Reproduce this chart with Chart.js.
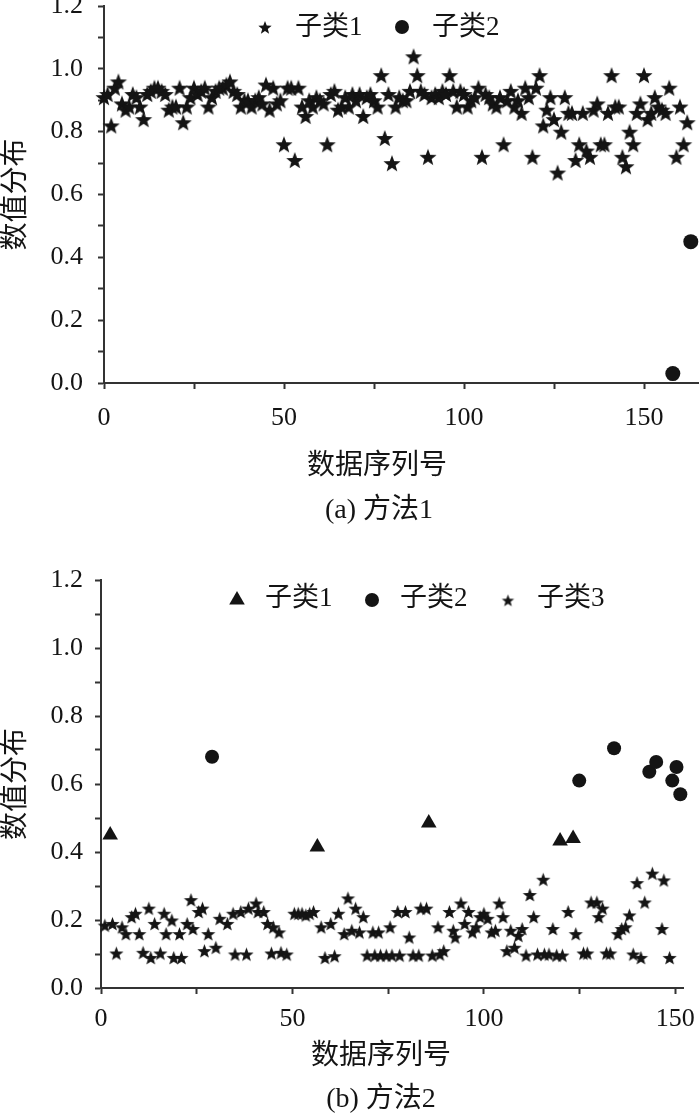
<!DOCTYPE html>
<html><head><meta charset="utf-8">
<script src="https://cdn.jsdelivr.net/npm/chart.js@4.4.1/dist/chart.umd.min.js"></script>
<style>
html,body{margin:0;padding:0;background:#fff;}
#wrap{position:relative;width:700px;height:1118px;overflow:hidden;}
#ca{position:absolute;left:0;top:0;width:700px;height:540px;}
#cb{position:absolute;left:0;top:540px;width:700px;height:578px;}
</style></head><body>
<div id="wrap"><canvas id="ca" width="700" height="540"></canvas><canvas id="cb" width="700" height="578"></canvas></div>
<script>
// ---------- DATA ----------
const xTitle = '数据序列号';
const yTitle = '数值分布';
const titleA = '(a) 方法1';
const titleB = '(b) 方法2';
const yTickValues = [0, 0.2, 0.4, 0.6, 0.8, 1.0, 1.2];
const xTickValues = [0, 50, 100, 150];
const xTickMarks = [0, 25, 50, 75, 100, 125, 150];

// Chart (a): value for each sequence number 0..162 (null = belongs to 子类2)
const labelsA = ['子类1', '子类2'];
const starA = [
 0.91,0.92,0.82,0.94,0.96,0.89,0.87,0.88,0.92,0.91,
 0.88,0.84,0.92,0.93,0.94,0.94,0.93,0.92,0.87,0.88,
 0.88,0.94,0.83,0.88,0.91,0.94,0.92,0.93,0.94,0.88,
 0.91,0.93,0.94,0.94,0.95,0.96,0.93,0.92,0.88,0.90,
 0.90,0.88,0.90,0.91,0.89,0.95,0.87,0.94,0.89,0.90,
 0.76,0.94,0.94,0.71,0.94,0.88,0.85,0.90,0.88,0.91,
 0.90,0.89,0.76,0.92,0.93,0.87,0.88,0.91,0.88,0.92,
 0.90,0.92,0.85,0.91,0.92,0.90,0.88,0.98,0.78,0.92,
 0.70,0.88,0.91,0.90,0.90,0.93,1.04,0.98,0.93,0.92,
 0.72,0.91,0.92,0.91,0.93,0.92,0.98,0.93,0.88,0.93,
 0.92,0.88,0.90,0.91,0.94,0.72,0.92,0.91,0.89,0.88,
 0.91,0.76,0.90,0.93,0.88,0.90,0.86,0.94,0.91,0.72,
 0.94,0.98,0.82,0.87,0.91,0.84,0.67,0.80,0.91,0.86,
 0.86,0.71,0.76,0.86,0.74,0.72,0.87,0.89,0.76,0.76,
 0.86,0.98,0.88,0.88,0.72,0.69,0.80,0.76,0.86,0.89,
 0.98,0.84,0.86,0.91,0.88,0.87,0.86,0.94,null,0.72,
 0.88,0.76,0.83
];
const circleAX = [158, 163];
const circleAY = [0.03, 0.45];

// Chart (b)
const labelsB = ['子类1', '子类2', '子类3'];
const triBX = [2.4, 56.5, 85.6, 119.9, 123.3];
const triBY = [0.45, 0.415, 0.485, 0.432, 0.44];
const circleBX = [29, 124.9, 134, 143.2, 145, 149.2, 150.3, 151.3];
const circleBY = [0.68, 0.61, 0.705, 0.636, 0.665, 0.61, 0.65, 0.57];
const starBX = [1,3,4,5.5,6.5,8,9,10,11,12.5,13,14,15.5,16.5,17,18.5,19,20.5,21,22.5,
 23.5,24,25.5,26.5,27,28,30,31,33,34.5,35,36.5,38,38.5,40.5,41,42.5,43.5,44.5,45,
 46.5,47,48.5,50.5,51.5,52.5,53.5,54.5,55.5,57.5,58.5,60,61,62,63.5,64.5,65.5,66.5,67.5,68.5,
 69.5,71,71.5,72.5,73,74.5,75.5,76,77.5,78,79.5,80.5,81.5,83,83.5,85,86.5,88,88.5,89.5,
 91,92,92.5,94,95,96,97,98,99,100,101,102,103,104,105,106,107,108,109,110,
 111,112,113,114,115.5,115.8,117,118,119,120.5,122,124,126,127,128,129.5,130,131,132,133,
 135,136,137,138,139,140,141,142,144,146.5,147,148.5];
const starBY = [0.185,0.19,0.103,0.18,0.16,0.21,0.22,0.16,0.105,0.235,0.09,0.19,0.103,0.22,0.16,0.20,0.09,0.16,0.09,0.19,
 0.26,0.175,0.225,0.235,0.11,0.16,0.12,0.205,0.19,0.22,0.10,0.225,0.10,0.235,0.25,0.225,0.225,0.19,0.103,0.18,
 0.165,0.105,0.10,0.22,0.22,0.22,0.215,0.22,0.225,0.18,0.09,0.19,0.095,0.22,0.16,0.265,0.17,0.235,0.165,0.21,
 0.097,0.165,0.097,0.165,0.097,0.097,0.18,0.097,0.225,0.097,0.225,0.15,0.097,0.097,0.235,0.235,0.097,0.18,0.10,0.11,
 0.225,0.17,0.15,0.25,0.19,0.225,0.165,0.18,0.21,0.22,0.205,0.165,0.17,0.25,0.21,0.11,0.17,0.12,0.155,0.175,
 0.097,0.275,0.21,0.10,0.32,0.10,0.10,0.175,0.097,0.097,0.225,0.16,0.103,0.103,0.253,0.253,0.21,0.235,0.103,0.103,
 0.16,0.175,0.18,0.215,0.10,0.31,0.09,0.253,0.338,0.175,0.318,0.09];

// ---------- STYLE / HELPERS ----------
const serif = "'Liberation Serif', 'Noto Sans CJK SC', serif";
const ink = '#141414';
const axisCol = '#333333';

function makeStar(R, ratio, color) {
  const s = Math.ceil(R * 2) + 2;
  const c = document.createElement('canvas');
  c.width = s; c.height = s;
  const g = c.getContext('2d');
  g.fillStyle = color;
  g.beginPath();
  for (let k = 0; k < 10; k++) {
    const r = k % 2 === 0 ? R : R * ratio;
    const a = -Math.PI / 2 + k * Math.PI / 5;
    const x = s / 2 + r * Math.cos(a), y = s / 2 + 1 + r * Math.sin(a);
    if (k) g.lineTo(x, y); else g.moveTo(x, y);
  }
  g.closePath(); g.fill();
  return c;
}
const starBigA = makeStar(9, 0.42, ink);
const starLegA = makeStar(7, 0.42, ink);
const starB = makeStar(7.5, 0.42, ink);
const starLegB = makeStar(6.5, 0.42, ink);

function pairs(xs, ys) { return xs.map((x, i) => ({x: x, y: ys[i]})); }

// legend inside the plot + captions under the axis
const legendPlugin = {
  id: 'customLegend',
  afterDraw(chart, args, opts) {
    const ctx = chart.ctx;
    ctx.save();
    ctx.font = opts.size + 'px ' + serif;
    ctx.textBaseline = 'middle';
    ctx.textAlign = 'left';
    opts.items.forEach((it, k) => {
      const ds = chart.data.datasets[k];
      ctx.fillStyle = ink; ctx.strokeStyle = ink;
      Chart.helpers.drawPoint(ctx, {pointStyle: it.style, radius: it.r, rotation: 0, borderWidth: 0}, it.mx, opts.my);
      ctx.fillStyle = ink;
      ctx.fillText(ds.label, it.tx, opts.ty);
    });
    ctx.textAlign = 'center';
    ctx.font = opts.capSize + 'px ' + serif;
    opts.captions.forEach(c => ctx.fillText(c.text, c.x, c.y));
    ctx.restore();
  }
};

function yScale(width, pad) {
  return {
    type: 'linear', min: 0, max: 1.2,
    border: {display: true, color: axisCol, width: 2},
    grid: {display: true, drawOnChartArea: false, drawTicks: true, tickLength: 6, tickColor: axisCol, tickWidth: 2},
    ticks: {stepSize: 0.1, autoSkip: false, padding: pad, color: ink, font: {family: serif, size: 26},
      callback: v => yTickValues.some(t => Math.abs(t - v) < 1e-6) ? v.toFixed(1) : ''},
    title: {display: true, text: yTitle, color: ink, font: {family: serif, size: 28}, padding: {top: 0, bottom: 0}},
    afterFit: s => { s.width = width; s.paddingTop = 0; s.paddingBottom = 0; }
  };
}
function xScale(max, pad) {
  return {
    type: 'linear', min: 0, max: max,
    border: {display: true, color: axisCol, width: 2},
    grid: {display: true, drawOnChartArea: false, drawTicks: true, tickLength: 6, tickColor: axisCol, tickWidth: 2},
    afterBuildTicks: s => { s.ticks = xTickMarks.map(v => ({value: v})); },
    ticks: {autoSkip: false, maxRotation: 0, padding: pad, color: ink, font: {family: serif, size: 26},
      callback: v => xTickValues.includes(v) ? String(v) : ''},
    title: {display: false},
    afterFit: s => { s.height = 60; s.paddingLeft = 0; s.paddingRight = 0; }
  };
}

// ---------- CHART A ----------
const starPtsA = [];
starA.forEach((v, i) => { if (v !== null) starPtsA.push({x: i, y: v}); });

new Chart(document.getElementById('ca'), {
  type: 'scatter',
  data: {datasets: [
    {label: labelsA[0], data: starPtsA, pointStyle: starBigA, pointRadius: 9, backgroundColor: ink, borderColor: ink, borderWidth: 0, clip: false},
    {label: labelsA[1], data: pairs(circleAX, circleAY), pointStyle: 'circle', pointRadius: 7.5, backgroundColor: ink, borderColor: ink, borderWidth: 0, clip: false}
  ]},
  options: {
    responsive: false, animation: false, events: [],
    layout: {autoPadding: false, padding: {top: 6, left: 0, right: 2, bottom: 97}},
    scales: {x: xScale(165, 13.4), y: yScale(104, 15)},
    plugins: {
      legend: {display: false}, tooltip: {enabled: false}, title: {display: false},
      customLegend: {size: 27, my: 27, ty: 28, capSize: 28,
        captions: [{text: xTitle, x: 377, y: 467}, {text: titleA, x: 379, y: 511}],
        items: [
          {style: starLegA, r: 7, mx: 265, tx: 295},
          {style: 'circle', r: 7, mx: 402, tx: 432}
        ]}
    }
  },
  plugins: [legendPlugin]
});

// ---------- CHART B ----------
new Chart(document.getElementById('cb'), {
  type: 'scatter',
  data: {datasets: [
    {label: labelsB[0], data: pairs(triBX, triBY), pointStyle: 'triangle', pointRadius: 9, backgroundColor: ink, borderColor: ink, borderWidth: 0, clip: false},
    {label: labelsB[1], data: pairs(circleBX, circleBY), pointStyle: 'circle', pointRadius: 7, backgroundColor: ink, borderColor: ink, borderWidth: 0, clip: false},
    {label: labelsB[2], data: pairs(starBX, starBY), pointStyle: starB, pointRadius: 8, backgroundColor: ink, borderColor: ink, borderWidth: 0, clip: false}
  ]},
  options: {
    responsive: false, animation: false, events: [],
    layout: {autoPadding: false, padding: {top: 40, left: 0, right: 17, bottom: 70}},
    scales: {x: xScale(152, 9.9), y: yScale(101, 12)},
    plugins: {
      legend: {display: false}, tooltip: {enabled: false}, title: {display: false},
      customLegend: {size: 27, my: 60, ty: 59, capSize: 28,
        captions: [{text: xTitle, x: 381, y: 517}, {text: titleB, x: 381, y: 560}],
        items: [
          {style: 'triangle', r: 9, mx: 237, tx: 265},
          {style: 'circle', r: 7, mx: 372, tx: 400},
          {style: starLegB, r: 7, mx: 508, tx: 537}
        ]}
    }
  },
  plugins: [legendPlugin]
});
</script>
</body></html>
